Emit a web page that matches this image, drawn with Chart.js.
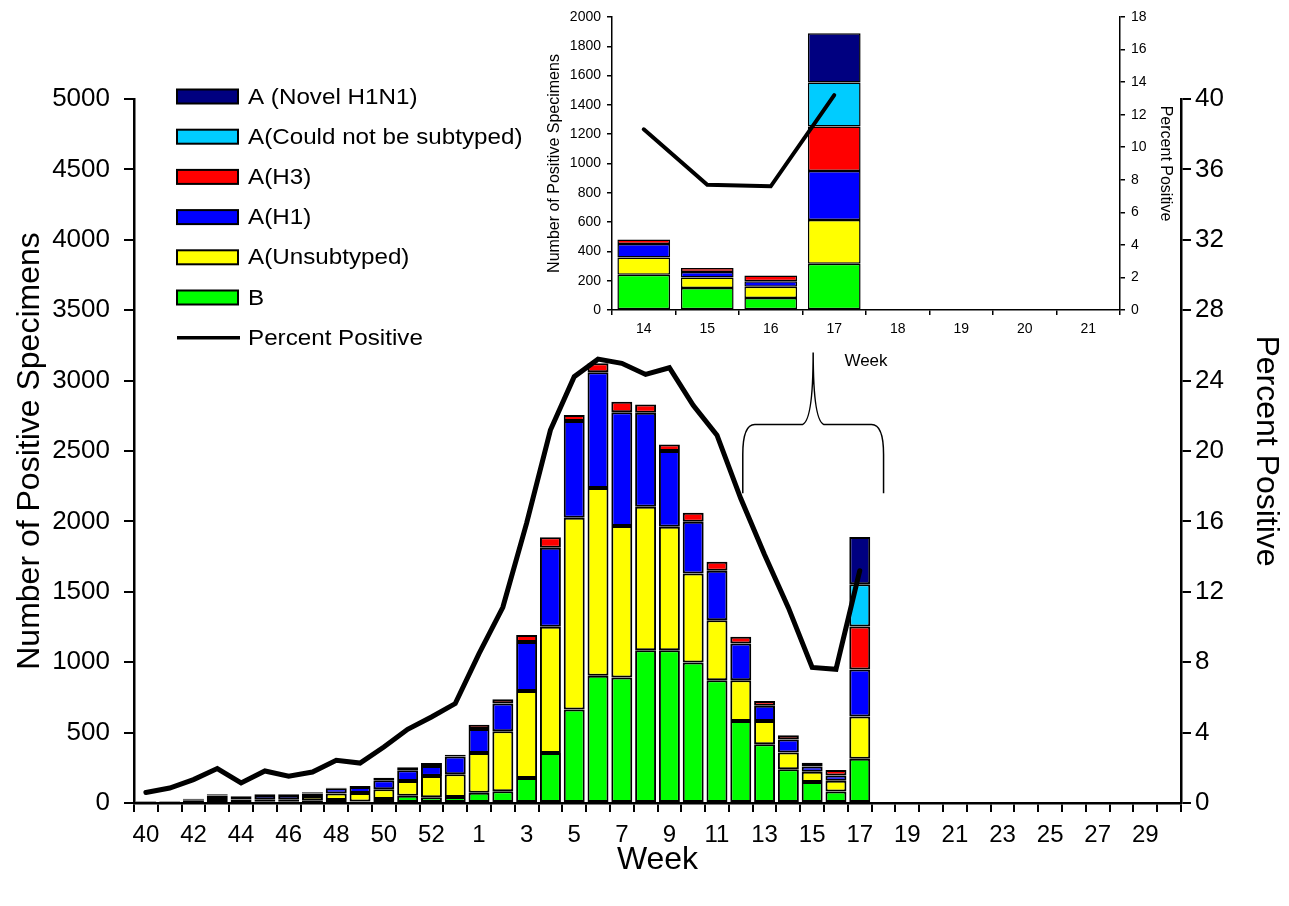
<!DOCTYPE html>
<html>
<head>
<meta charset="utf-8">
<title>Positive Specimens by Week</title>
<script src="https://cdn.jsdelivr.net/npm/chart.js@4.4.1/dist/chart.umd.min.js"></script>
<style>
    html, body { margin: 0; padding: 0; background: #fff; }
    #wrap { position: relative; width: 1289px; height: 906px; }
    #mainChart { position: absolute; left: 0; top: 0; }
    #insetChart { position: absolute; left: 520px; top: 0; }
</style>
</head>
<body>
<div id="wrap">
    <canvas id="mainChart" width="1289" height="906"></canvas>
    <canvas id="insetChart" width="680" height="380"></canvas>
</div>
<script>
// Weeks 40-53 of 2008, then 1-30 of 2009
const weeks = ['40', '41', '42', '43', '44', '45', '46', '47', '48', '49', '50', '51', '52', '53',
    '1', '2', '3', '4', '5', '6', '7', '8', '9', '10', '11', '12', '13', '14', '15', '16', '17',
    '18', '19', '20', '21', '22', '23', '24', '25', '26', '27', '28', '29', '30'];

// Counts per week (40 ... 17), later weeks have no data yet
const fluB = [4, 4, 6, 14, 5, 8, 8, 20, 22, 10, 28, 52, 40, 42,
    72, 84, 178, 355, 664, 903, 891, 1085, 1085, 998, 872, 583, 417, 240, 150, 82, 315];
const fluAUnsubtyped = [4, 4, 10, 22, 19, 18, 18, 30, 45, 61, 69, 105, 152, 163,
    284, 426, 618, 896, 1362, 1334, 1076, 1019, 877, 632, 426, 289, 166, 118, 72, 76, 300];
const fluAH1 = [4, 4, 10, 18, 18, 31, 30, 18, 37, 43, 64, 75, 71, 125,
    170, 196, 348, 561, 687, 822, 808, 668, 538, 367, 351, 261, 107, 93, 37, 38, 333];
const fluAH3 = [2, 2, 5, 8, 6, 5, 6, 8, 5, 7, 19, 22, 21, 12,
    30, 31, 50, 76, 42, 64, 75, 59, 47, 64, 64, 47, 35, 30, 27, 39, 305];
const fluANotSubtyped = [null, null, null, null, null, null, null, null, null, null, null, null, null, null,
    null, null, null, null, null, null, null, null, null, null, null, null, null, null, null, null, 300];
const fluANovelH1N1 = [null, null, null, null, null, null, null, null, null, null, null, null, null, null,
    null, null, null, null, null, null, null, null, null, null, null, null, null, null, null, null, 336];
const percentPositive = [0.6, 0.85, 1.33, 1.96, 1.14, 1.82, 1.52, 1.76, 2.43, 2.27, 3.18, 4.19, 4.89, 5.65,
    8.49, 11.12, 15.9, 21.19, 24.22, 25.22, 24.98, 24.35, 24.73, 22.6, 20.9, 17.3, 14.1, 11.1, 7.7, 7.6, 13.2];

const FONT = '"Liberation Sans", Arial, sans-serif';
Chart.defaults.font.family = FONT;
Chart.defaults.color = '#000';
Chart.defaults.animation = false;

function padSeries(arr) {
    const out = arr.slice();
    while (out.length < weeks.length) out.push(null);
    return out;
}

function barSet(label, data, color) {
    return {
        type: 'bar',
        label: label,
        data: padSeries(data),
        backgroundColor: color,
        borderColor: '#000',
        borderWidth: 2,
        borderSkipped: false,
        yAxisID: 'y',
        order: 1
    };
}

function buildDatasets(lineWidth) {
    return [
        barSet('B', fluB, '#00ff00'),
        barSet('A(Unsubtyped)', fluAUnsubtyped, '#ffff00'),
        barSet('A(H1)', fluAH1, '#0000ff'),
        barSet('A(H3)', fluAH3, '#ff0000'),
        barSet('A(Could not be subtyped)', fluANotSubtyped, '#00ccff'),
        barSet('A (Novel H1N1)', fluANovelH1N1, '#000080'),
        {
            type: 'line',
            label: 'Percent Positive',
            data: padSeries(percentPositive),
            borderColor: '#000',
            borderWidth: lineWidth,
            borderCapStyle: 'round',
            pointRadius: 0,
            tension: 0,
            yAxisID: 'y1',
            order: 0
        }
    ];
}

// plain numbers, no thousands separator
const plain = v => String(v);

// Legend in the upper left corner, bars top-down then the line
const sideLegend = {
    id: 'sideLegend',
    afterDraw(chart) {
        const ctx = chart.ctx;
        const sets = chart.data.datasets;
        const items = sets.filter(d => d.type === 'bar').reverse()
            .concat(sets.filter(d => d.type === 'line'));
        ctx.save();
        ctx.font = '22px ' + FONT;
        ctx.textBaseline = 'middle';
        items.forEach((d, i) => {
            const cy = 96.5 + i * 40.2;
            if (d.type === 'bar') {
                ctx.fillStyle = d.backgroundColor;
                ctx.fillRect(177, cy - 7, 61, 14);
                ctx.lineWidth = 2;
                ctx.strokeStyle = '#000';
                ctx.strokeRect(177, cy - 7, 61, 14);
            } else {
                ctx.beginPath();
                ctx.lineWidth = 3.5;
                ctx.strokeStyle = '#000';
                ctx.moveTo(177, cy);
                ctx.lineTo(240, cy);
                ctx.stroke();
            }
            // the original lettering is a bit wide
            ctx.save();
            ctx.translate(248, cy + 1);
            ctx.scale(1.1, 1);
            ctx.fillStyle = '#000';
            ctx.fillText(d.label, 0, 0);
            ctx.restore();
        });
        ctx.restore();
    }
};

// Curly brace pointing from weeks 12-17 up to the inset
const brace = {
    id: 'brace',
    afterDatasetsDraw(chart) {
        const x = chart.scales.x, y1 = chart.scales.y1, ctx = chart.ctx;
        const xL = x.getPixelForValue(weeks.indexOf('12')) + 2;
        const xR = x.getPixelForValue(weeks.indexOf('18'));
        const xM = (xL + xR) / 2;
        const yEnd = y1.getPixelForValue(17.6);
        const yH = y1.getPixelForValue(21.5);
        const yTop = y1.getPixelForValue(25.6);
        ctx.save();
        ctx.beginPath();
        ctx.lineWidth = 1.5;
        ctx.strokeStyle = '#000';
        ctx.moveTo(xL, yEnd);
        ctx.lineTo(xL, yH + 30);
        ctx.quadraticCurveTo(xL, yH, xL + 12, yH);
        ctx.lineTo(xM - 12, yH);
        ctx.quadraticCurveTo(xM, yH, xM, yTop);
        ctx.quadraticCurveTo(xM, yH, xM + 12, yH);
        ctx.lineTo(xR - 12, yH);
        ctx.quadraticCurveTo(xR, yH, xR, yH + 30);
        ctx.lineTo(xR, yEnd);
        ctx.stroke();
        ctx.restore();
    }
};

function fixWidth(w) { return scale => { scale.width = w; }; }
function fixHeight(h) { return scale => { scale.height = h; }; }

new Chart(document.getElementById('mainChart'), {
    data: { labels: weeks, datasets: buildDatasets(5) },
    options: {
        responsive: false,
        layout: { padding: { top: 99, left: 0, right: 0, bottom: 0 } },
        plugins: { legend: { display: false }, tooltip: { enabled: false } },
        datasets: { bar: { categoryPercentage: 1, barPercentage: 0.88 } },
        scales: {
            x: {
                stacked: true,
                offset: true,
                afterFit: fixHeight(103),
                grid: { offset: true, drawOnChartArea: false, color: '#000', lineWidth: 2, tickLength: 9 },
                border: { color: '#000', width: 2.5 },
                ticks: {
                    autoSkip: false, maxRotation: 0, padding: 9,
                    font: { size: 24 },
                    callback: function (val, idx) { return idx % 2 === 0 ? this.getLabelForValue(val) : ''; }
                },
                title: { display: true, text: 'Week', font: { size: 32 }, padding: { top: 0, bottom: 27 } }
            },
            y: {
                stacked: true,
                position: 'left',
                min: 0, max: 5000,
                afterFit: fixWidth(134),
                grid: { drawOnChartArea: false, color: '#000', lineWidth: 2, tickLength: 10 },
                border: { color: '#000', width: 2.5 },
                ticks: { stepSize: 500, padding: 14, font: { size: 26 }, callback: plain },
                title: { display: true, text: 'Number of Positive Specimens', font: { size: 32 }, padding: { top: 11, bottom: 0 } }
            },
            y1: {
                stacked: false,
                position: 'right',
                min: 0, max: 40,
                afterFit: fixWidth(108),
                grid: { drawOnChartArea: false, color: '#000', lineWidth: 2, tickLength: 10 },
                border: { color: '#000', width: 2.5 },
                ticks: { stepSize: 4, padding: 4, font: { size: 26 }, callback: plain },
                title: { display: true, text: 'Percent Positive', font: { size: 32 }, padding: { top: 4, bottom: 0 } }
            }
        }
    },
    plugins: [sideLegend, brace]
});

// Inset: zoom on weeks 14-21 using the same series
const insetFrom = weeks.indexOf('14');
const insetTo = weeks.indexOf('21') + 1;
const insetSets = buildDatasets(4).map(d => Object.assign({}, d, {
    data: d.data.slice(insetFrom, insetTo),
    borderWidth: d.type === 'bar' ? 1.5 : 4
}));

new Chart(document.getElementById('insetChart'), {
    data: { labels: weeks.slice(insetFrom, insetTo), datasets: insetSets },
    options: {
        responsive: false,
        layout: { padding: { top: 17, left: 0, right: 0, bottom: 0 } },
        plugins: { legend: { display: false }, tooltip: { enabled: false } },
        datasets: { bar: { categoryPercentage: 1, barPercentage: 0.83 } },
        scales: {
            x: {
                stacked: true,
                offset: true,
                afterFit: fixHeight(70),
                grid: { offset: true, drawOnChartArea: false, color: '#000', lineWidth: 1.5, tickLength: 5 },
                border: { color: '#000', width: 1.5 },
                ticks: { autoSkip: false, maxRotation: 0, padding: 6, font: { size: 14 } },
                title: { display: true, text: 'Week', font: { size: 17 }, padding: { top: 0, bottom: 8 } }
            },
            y: {
                stacked: true,
                position: 'left',
                min: 0, max: 2000,
                afterFit: fixWidth(92),
                grid: { drawOnChartArea: false, color: '#000', lineWidth: 1.5, tickLength: 5 },
                border: { color: '#000', width: 1.5 },
                ticks: { stepSize: 200, padding: 6, font: { size: 14 }, callback: plain },
                title: { display: true, text: 'Number of Positive Specimens', font: { size: 16 }, padding: { top: 25, bottom: 0 } }
            },
            y1: {
                stacked: false,
                position: 'right',
                min: 0, max: 18,
                afterFit: fixWidth(80),
                grid: { drawOnChartArea: false, color: '#000', lineWidth: 1.5, tickLength: 5 },
                border: { color: '#000', width: 1.5 },
                ticks: { stepSize: 2, padding: 6, font: { size: 14 }, callback: plain },
                title: { display: true, text: 'Percent Positive', font: { size: 16 }, padding: { top: 25, bottom: 0 } }
            }
        }
    }
});
</script>
</body>
</html>
